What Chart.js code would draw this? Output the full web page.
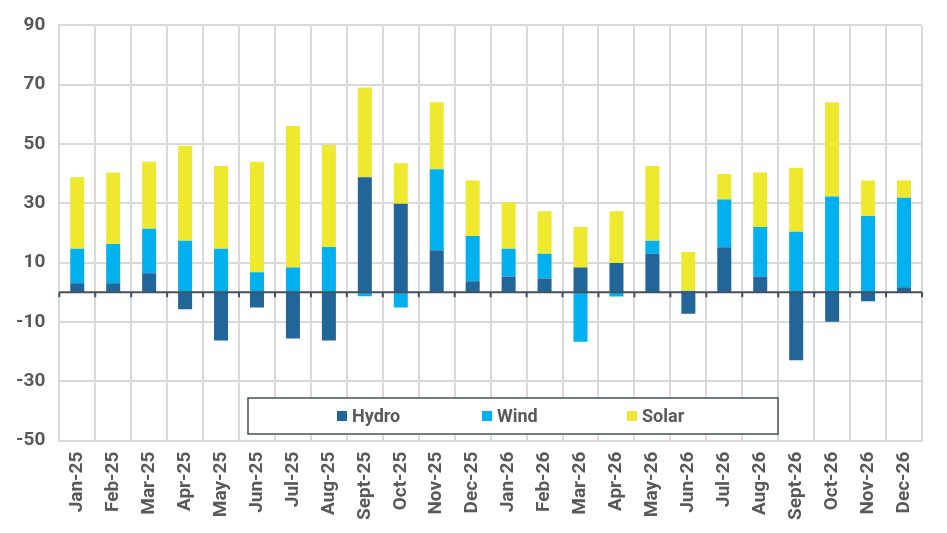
<!DOCTYPE html>
<html>
<head>
<meta charset="utf-8">
<script src="https://cdn.jsdelivr.net/npm/chart.js@4.4.1/dist/chart.umd.min.js"></script>
<style>
  html, body { margin: 0; padding: 0; background: #fff; }
  #wrap { width: 947px; height: 533px; position: relative; }
</style>
</head>
<body>
<div id="wrap"><canvas id="genChart"></canvas></div>
<script>
var categories = ['Jan-25', 'Feb-25', 'Mar-25', 'Apr-25', 'May-25', 'Jun-25', 'Jul-25', 'Aug-25',
    'Sept-25', 'Oct-25', 'Nov-25', 'Dec-25', 'Jan-26', 'Feb-26', 'Mar-26', 'Apr-26', 'May-26',
    'Jun-26', 'Jul-26', 'Aug-26', 'Sept-26', 'Oct-26', 'Nov-26', 'Dec-26'];
var hydro = [3.1, 3.1, 6.4, -5.7, -16.2, -5.1, -15.6, -16.2, 38.8, 29.9, 14.2, 3.7,
    5.3, 4.7, 8.4, 9.9, 13.0, -7.2, 15.2, 5.3, -22.9, -9.9, -3.0, 1.7];
var wind = [11.6, 13.2, 15.0, 17.4, 14.7, 6.8, 8.4, 15.3, -1.3, -5.1, 27.3, 15.3,
    9.4, 8.3, -16.7, -1.4, 4.4, 0.5, 16.1, 16.7, 20.4, 32.3, 25.7, 30.2];
var solar = [24.1, 24.1, 22.6, 32.0, 27.9, 37.2, 47.7, 34.4, 30.3, 13.6, 22.6, 18.7,
    15.7, 14.3, 13.6, 17.4, 25.2, 13.1, 8.6, 18.4, 21.6, 31.8, 12.0, 5.8];

var textColor = '#595959';
var gridColor = '#d9d9d9';

// dark zero line with small tick marks at the category boundaries
var zeroLine = {
    id: 'zeroLine',
    afterDatasetsDraw: function (chart) {
        var ctx = chart.ctx, area = chart.chartArea;
        var y0 = chart.scales.y.getPixelForValue(0);
        var n = categories.length;
        ctx.save();
        ctx.strokeStyle = '#44505c';
        ctx.lineWidth = 2;
        ctx.beginPath();
        ctx.moveTo(area.left, y0);
        ctx.lineTo(area.right, y0);
        for (var i = 0; i <= n; i++) {
            var x = area.left + i * (area.right - area.left) / n;
            ctx.moveTo(x, y0);
            ctx.lineTo(x, y0 + 5);
        }
        ctx.stroke();
        ctx.restore();
    }
};

// boxed legend sitting inside the plot
var boxLegend = {
    id: 'boxLegend',
    afterDraw: function (chart) {
        var ctx = chart.ctx;
        var bx = 248, by = 398, bw = 530, bh = 36;
        ctx.save();
        ctx.fillStyle = '#ffffff';
        ctx.fillRect(bx, by, bw, bh);
        ctx.strokeStyle = '#44505c';
        ctx.lineWidth = 1.5;
        ctx.strokeRect(bx, by, bw, bh);
        ctx.font = 'bold 18px Roboto';
        ctx.textBaseline = 'middle';
        chart.data.datasets.forEach(function (ds, i) {
            var x = 337 + i * 145;
            var y = by + bh / 2;
            ctx.fillStyle = ds.backgroundColor;
            ctx.fillRect(x, y - 5, 10, 10);
            ctx.fillStyle = textColor;
            ctx.fillText(ds.label, x + 15, y + 1);
        });
        ctx.restore();
    }
};

var ctx = document.getElementById('genChart').getContext('2d');
var genChart = new Chart(ctx, {
    type: 'bar',
    data: {
        labels: categories,
        datasets: [
            { label: 'Hydro', data: hydro, backgroundColor: '#226599' },
            { label: 'Wind', data: wind, backgroundColor: '#00b0ef' },
            { label: 'Solar', data: solar, backgroundColor: '#eee82f' }
        ]
    },
    options: {
        responsive: true,
        maintainAspectRatio: false,
        animation: false,
        layout: { padding: { top: 10, left: 2, right: 25, bottom: 2 } },
        datasets: {
            bar: { categoryPercentage: 1, barPercentage: 0.39 }
        },
        plugins: {
            legend: { display: false },
            tooltip: { enabled: false }
        },
        scales: {
            x: {
                stacked: true,
                grid: { color: gridColor, lineWidth: 2, drawTicks: false, offset: true },
                border: { color: gridColor, width: 2 },
                ticks: {
                    color: textColor,
                    font: { family: 'Roboto', size: 19, weight: 'bold' },
                    minRotation: 90,
                    maxRotation: 90,
                    autoSkip: false,
                    padding: 11
                }
            },
            y: {
                stacked: true,
                min: -50,
                max: 90,
                grid: { color: gridColor, lineWidth: 2, drawTicks: false },
                border: { color: gridColor, width: 2 },
                ticks: {
                    stepSize: 20,
                    color: textColor,
                    font: { family: 'Roboto', size: 19, weight: 'bold' },
                    padding: 14
                }
            }
        }
    },
    plugins: [zeroLine, boxLegend]
});
</script>
</body>
</html>
